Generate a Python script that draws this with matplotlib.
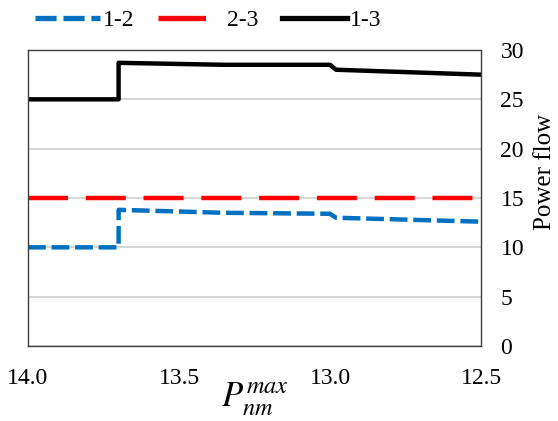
import matplotlib
matplotlib.use("Agg")
import matplotlib.pyplot as plt

plt.rcParams['font.family'] = ['Liberation Serif', 'DejaVu Serif']
plt.rcParams['mathtext.fontset'] = 'stix'

# data
x_12 = [14.0, 13.7, 13.7, 13.35, 13.0, 12.98, 12.5]
y_12 = [10.0, 10.0, 13.8, 13.5, 13.4, 13.0, 12.6]
x_23 = [14.0, 12.5]
y_23 = [15.0, 15.0]
x_13 = [14.0, 13.7, 13.7, 13.35, 13.0, 12.98, 12.5]
y_13 = [25.0, 25.0, 28.7, 28.5, 28.5, 28.0, 27.5]

xticks = [14.0, 13.5, 13.0, 12.5]
yticks = [0, 5, 10, 15, 20, 25, 30]

fig = plt.figure(figsize=(5.58, 4.21), dpi=100)
ax = fig.add_axes([28/558, 1 - 346/421, (481-28)/558, (346-50)/421])

ax.plot(x_12, y_12, color='#0070C0', lw=3.2, dashes=(4.0, 1.3), label='1-2')
ax.plot(x_23, y_23, color='#FF0000', lw=3.2, dashes=(9.0, 4.0), label='2-3')
ax.plot(x_13, y_13, color='black', lw=3.2, label='1-3')

ax.set_xlim(14.0, 12.5)
ax.set_ylim(0, 30)
ax.set_xticks(xticks)
ax.set_xticklabels([f"{v:.1f}" for v in xticks])
ax.set_yticks(yticks)
ax.yaxis.tick_right()
ax.tick_params(length=0, labelsize=17)
ax.tick_params(axis='x', pad=16)
ax.tick_params(axis='y', pad=14)
ax.grid(axis='y', color='#D0D0D0', lw=1.2)
ax.set_axisbelow(True)
for s in ax.spines.values():
    s.set_color('#404040')
    s.set_linewidth(1.0)

fig.text(545/558, 1 - 172/421, 'Power flow', rotation=90, fontsize=18,
         ha='center', va='center')
ax.set_xlabel(r'$P_{nm}^{max}$', fontsize=25, labelpad=-6)

leg = ax.legend(loc='lower left', bbox_to_anchor=(0.01, 1.055), ncol=3, frameon=False,
                fontsize=17, handlelength=2.75, handletextpad=0.15, columnspacing=1.0,
                borderaxespad=0.1, borderpad=0.0)
for h in leg.get_lines():
    h.set_linewidth(3.8)

fig.savefig('out.png', dpi=100)
